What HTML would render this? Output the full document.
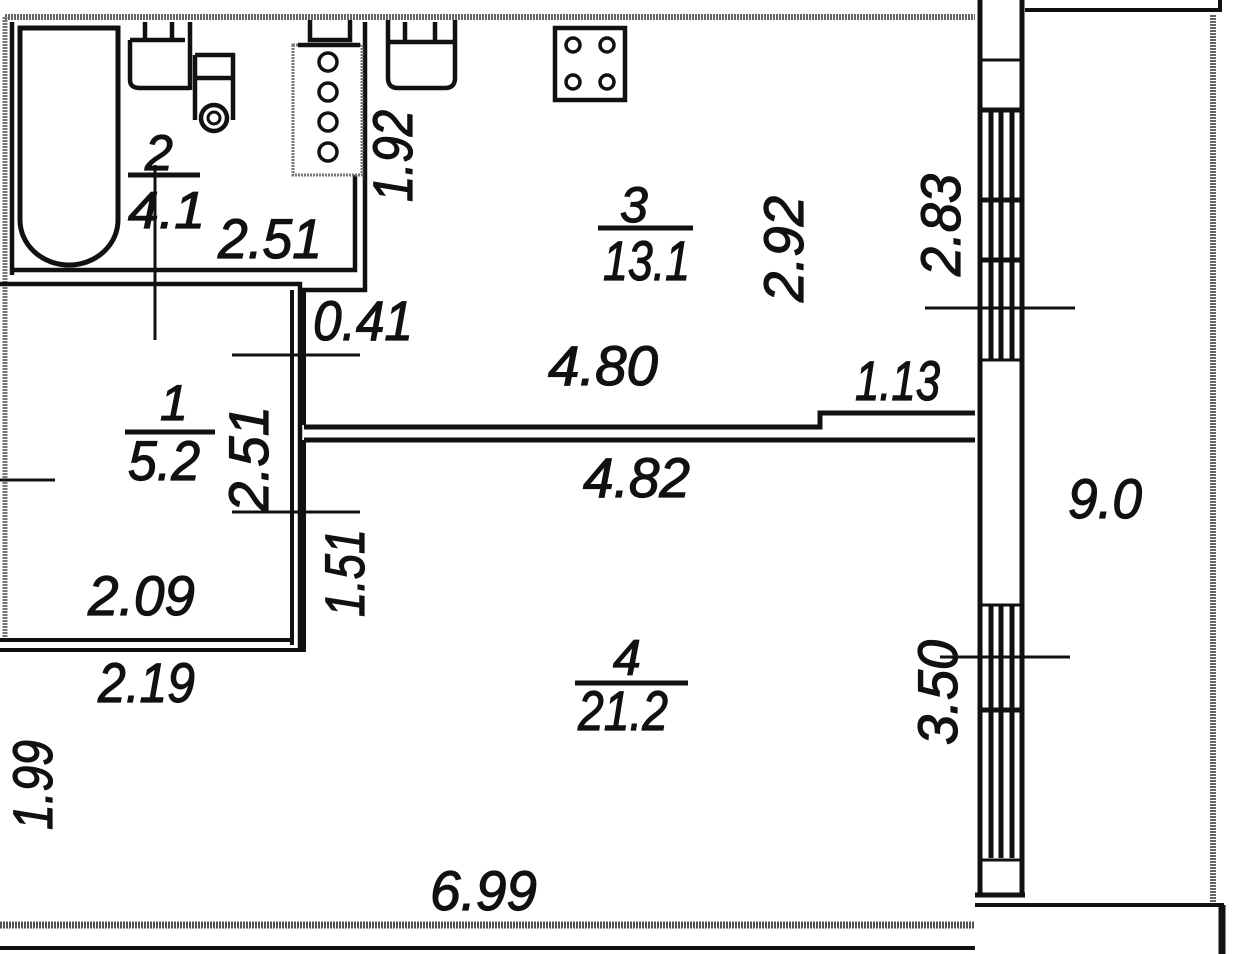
<!DOCTYPE html>
<html><head><meta charset="utf-8"><style>
html,body{margin:0;padding:0;background:#fff;}
svg{display:block}
text{font-family:"Liberation Sans",sans-serif;font-style:italic;fill:#111;stroke:#111;stroke-width:1.2;}
</style></head><body>
<svg width="1242" height="954" viewBox="0 0 1242 954" xmlns="http://www.w3.org/2000/svg">
<rect width="1242" height="954" fill="#fff"/>
<g fill="none" stroke="#111" stroke-width="4.5">
<path d="M5 17 H975" stroke="#666" stroke-width="6" stroke-dasharray="2 1"/>
<path d="M5 17 V640" stroke="#777" stroke-width="5" stroke-dasharray="2 1"/>
<path d="M0 925 H975" stroke="#555" stroke-width="7" stroke-dasharray="2 1"/>
<path d="M0 948 H975" stroke-width="4"/>
<path d="M12 22 V275 M12 270 H355 V175" />
<path d="M0 284 H300 V650 M365 22 V290 H300"/>
<path d="M292 290 V645 M0 640 H292" stroke-width="4"/>
<path d="M0 650 H304 V440" stroke-width="4"/>
<path d="M304 290 V425" stroke-width="4"/>
<path d="M20 28 H118 V220 A49 45 0 0 1 20 220 Z" stroke-width="5"/>
<path d="M130 40 H185 M145 22 V40 M172 22 V40 M130 40 V80 Q130 88 140 88 H190 M190 22 V90"/>
<path d="M195 55 H233 V120 M195 55 V120 M195 78 H233"/>
<circle cx="214" cy="118" r="13"/><circle cx="214" cy="118" r="6" stroke-width="3"/>
<path d="M293 45 V175 H362 V45 Z" stroke="#777" stroke-width="3" stroke-dasharray="2 1"/>
<path d="M310 20 V40 H350 V20 M298 45 H360"/>
<circle cx="328" cy="62" r="9" stroke-width="3.5"/><circle cx="328" cy="92" r="9" stroke-width="3.5"/><circle cx="328" cy="122" r="9" stroke-width="3.5"/><circle cx="328" cy="152" r="9" stroke-width="3.5"/>
<path d="M388 20 V78 Q388 88 398 88 H445 Q455 88 455 78 V20 M390 42 H453 M405 22 V42 M435 22 V42"/>
<rect x="555" y="28" width="70" height="72"/>
<circle cx="573" cy="45" r="7" stroke-width="3.5"/><circle cx="607" cy="45" r="7" stroke-width="3.5"/>
<circle cx="573" cy="82" r="7" stroke-width="3.5"/><circle cx="607" cy="82" r="7" stroke-width="3.5"/>
<path d="M304 427 H820 V413 H975" stroke-width="5"/>
<path d="M304 440 H975" stroke-width="5"/>
<path d="M980 0 V895 M1022 0 V895 M975 895 H1025" stroke-width="5"/>
<path d="M980 60 H1022 M980 360 H1022 M980 605 H1022 M980 860 H1022" stroke-width="3"/>
<path d="M991 110 V360 M1001 110 V360 M1012 110 V360 M980 110 H1022 M980 200 H1022 M980 260 H1022" stroke-width="5"/>
<path d="M991 605 V858 M1001 605 V858 M1012 605 V858 M980 710 H1022" stroke-width="5"/>
<path d="M1025 10 H1220 V0" stroke-width="4"/>
<path d="M1213 15 V905" stroke="#666" stroke-width="6" stroke-dasharray="2 1"/>
<path d="M975 905 H1222 V954" stroke-width="4"/>
<path d="M1222 905 V954" stroke-width="7"/>
<path d="M155 165 V340 M232 355 H360 M232 512 H360 M0 480 H55 M925 308 H1075 M940 657 H1070" stroke-width="3"/>
<path d="M125 432 H215 M598 228 H693 M575 683 H688 M128 175 H200" stroke-width="5"/>
</g>
<g font-size="56">
<text x="145" y="170" font-size="50">2</text>
<text x="128" y="228" textLength="77" lengthAdjust="spacingAndGlyphs" font-size="52">4.1</text>
<text x="218" y="258" textLength="104" lengthAdjust="spacingAndGlyphs">2.51</text>
<text transform="translate(412,202) rotate(-90)" textLength="92" lengthAdjust="spacingAndGlyphs">1.92</text>
<text x="620" y="222" font-size="50">3</text>
<text x="603" y="280" textLength="87" lengthAdjust="spacingAndGlyphs">13.1</text>
<text transform="translate(803,302) rotate(-90)" textLength="106" lengthAdjust="spacingAndGlyphs">2.92</text>
<text transform="translate(960,276) rotate(-90)" textLength="102" lengthAdjust="spacingAndGlyphs">2.83</text>
<text x="313" y="340" textLength="100" lengthAdjust="spacingAndGlyphs">0.41</text>
<text x="548" y="385" textLength="110" lengthAdjust="spacingAndGlyphs">4.80</text>
<text x="855" y="400" textLength="85" lengthAdjust="spacingAndGlyphs">1.13</text>
<text x="160" y="420" font-size="50">1</text>
<text x="128" y="480" textLength="72" lengthAdjust="spacingAndGlyphs">5.2</text>
<text transform="translate(268,512) rotate(-90)" textLength="106" lengthAdjust="spacingAndGlyphs">2.51</text>
<text x="583" y="497" textLength="107" lengthAdjust="spacingAndGlyphs">4.82</text>
<text x="1068" y="518" textLength="74" lengthAdjust="spacingAndGlyphs">9.0</text>
<text transform="translate(364,617) rotate(-90)" textLength="88" lengthAdjust="spacingAndGlyphs">1.51</text>
<text x="88" y="615" textLength="107" lengthAdjust="spacingAndGlyphs">2.09</text>
<text x="98" y="702" textLength="97" lengthAdjust="spacingAndGlyphs">2.19</text>
<text x="613" y="675" font-size="50">4</text>
<text x="578" y="730" textLength="90" lengthAdjust="spacingAndGlyphs">21.2</text>
<text transform="translate(957,745) rotate(-90)" textLength="105" lengthAdjust="spacingAndGlyphs">3.50</text>
<text transform="translate(52,830) rotate(-90)" textLength="90" lengthAdjust="spacingAndGlyphs">1.99</text>
<text x="430" y="910" textLength="107" lengthAdjust="spacingAndGlyphs">6.99</text>
</g>
</svg>
</body></html>
